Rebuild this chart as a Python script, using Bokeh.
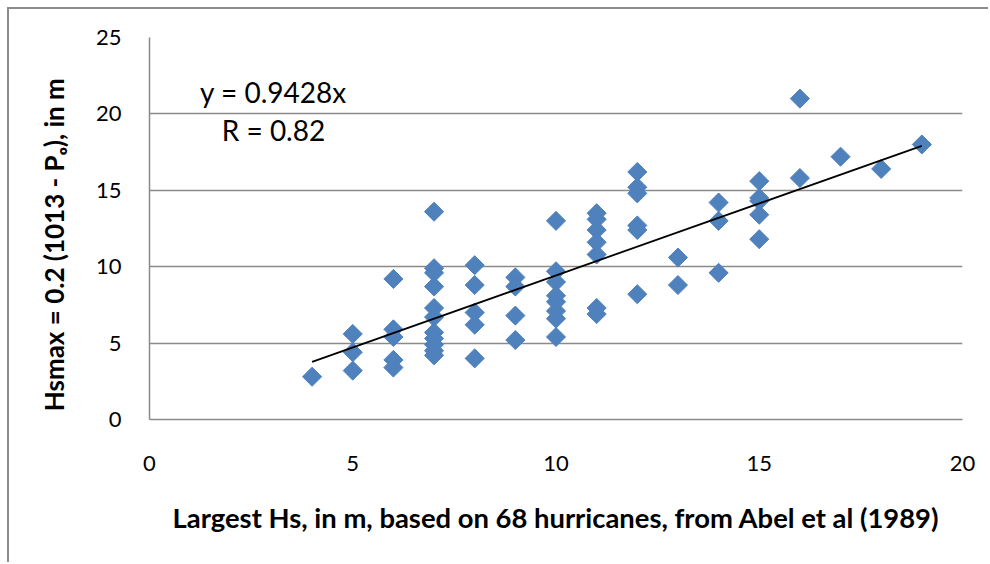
import math
from bokeh.plotting import figure
from bokeh.models import Range1d, Label, FixedTicker
from bokeh.embed import file_html
from bokeh.resources import INLINE

# Data
hs_largest = [4,
              5, 5, 5,
              6, 6, 6, 6, 6,
              7, 7, 7, 7, 7, 7, 7, 7, 7, 7, 7,
              8, 8, 8, 8, 8,
              9, 9, 9, 9,
              10, 10, 10, 10, 10, 10, 10, 10,
              11, 11, 11, 11, 11, 11, 11,
              12, 12, 12, 12, 12, 12,
              13, 13,
              14, 14, 14,
              15, 15, 15, 15, 15,
              16, 16,
              17, 18, 19]
hs_max = [2.8,
          5.6, 4.4, 3.2,
          9.2, 5.9, 5.4, 3.9, 3.4,
          13.6, 9.9, 9.6, 8.7, 7.3, 6.7, 5.7, 5.3, 4.9, 4.5, 4.2,
          10.1, 8.8, 7.0, 6.2, 4.0,
          9.3, 8.7, 6.8, 5.2,
          13.0, 9.7, 9.0, 8.1, 7.7, 7.1, 6.6, 5.4,
          13.5, 13.1, 12.4, 11.6, 10.8, 7.3, 6.9,
          16.2, 15.2, 14.8, 12.7, 12.4, 8.2,
          10.6, 8.8,
          14.2, 13.0, 9.6,
          15.6, 14.5, 14.3, 13.4, 11.8,
          21.0, 15.8,
          17.2, 16.4, 18.0]

slope = 0.9428
trend_x = [4, 19]
trend_y = [slope * v for v in trend_x]
x_ticks = [0, 5, 10, 15, 20]
y_ticks = [0, 5, 10, 15, 20, 25]

FONT = "Lato"
GRID = "#8a8a8a"
BLUE = "#4F81BD"

p = figure(width=981, height=555, output_backend="svg", toolbar_location=None,
           x_range=Range1d(0, 20), y_range=Range1d(0, 25),
           min_border_left=140, min_border_top=28, min_border_right=28, min_border_bottom=145)
p.styles = {"margin-left": "7px", "margin-top": "7px",
            "border-top": "2px solid #8c8c8c", "border-left": "2px solid #8c8c8c"}
p.outline_line_color = None
p.background_fill_color = "white"
p.border_fill_color = "white"

p.xgrid.grid_line_color = None
p.ygrid.grid_line_color = GRID
p.ygrid.grid_line_width = 1.5
p.yaxis.ticker = FixedTicker(ticks=y_ticks)
p.xaxis.ticker = FixedTicker(ticks=x_ticks)

for ax in (p.xaxis, p.yaxis):
    ax.axis_line_color = GRID
    ax.axis_line_width = 1.5
    ax.major_tick_line_color = None
    ax.minor_tick_line_color = None
    ax.major_label_text_font = FONT
    ax.major_label_text_font_size = "22px"
    ax.major_label_text_color = "#000000"
    ax.axis_label_text_font = FONT
    ax.axis_label_text_font_style = "bold"
    ax.axis_label_text_color = "#000000"

p.xaxis.axis_label_text_font_size = "27.4px"
p.yaxis.axis_label_text_font_size = "26px"
p.xaxis.major_label_standoff = 30
p.xaxis.axis_label_standoff = 27
p.yaxis.major_label_standoff = 22
p.yaxis.axis_label_standoff = 23
p.xaxis.axis_label = "Largest Hs, in m, based on 68 hurricanes, from Abel et al (1989)"
# trailing em/en spaces push the visible title slightly below the frame centre, as in the original
p.yaxis.axis_label = "Hsmax = 0.2 (1013 - P\u2092), in m\u2003\u2002"

p.scatter(hs_largest, hs_max, marker="square", size=13.5, angle=math.pi / 4,
          fill_color=BLUE, line_color=BLUE)
p.line(trend_x, trend_y, line_color="black", line_width=1.8)

p.add_layout(Label(x=3.05, y=21.46, text="y = 0.9428x", text_font=FONT,
                   text_font_size="28px", text_align="center", text_baseline="middle",
                   text_color="black"))
p.add_layout(Label(x=3.05, y=18.97, text="R = 0.82", text_font=FONT,
                   text_font_size="28px", text_align="center", text_baseline="middle",
                   text_color="black"))

open("out.html", "w").write(file_html(p, INLINE))
